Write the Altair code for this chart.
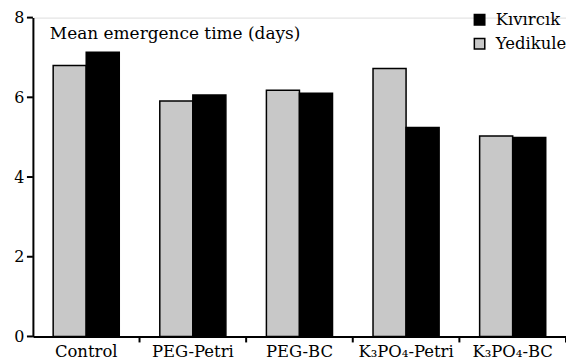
import altair as alt
import pandas as pd

categories = ["Control", "PEG-Petri", "PEG-BC", "K₃PO₄-Petri", "K₃PO₄-BC"]
yedikule = [6.8, 5.91, 6.18, 6.72, 5.03]
kivircik = [7.13, 6.06, 6.10, 5.24, 4.99]
series = ["Kıvırcık", "Yedikule"]
y_ticks = [0, 2, 4, 6, 8]
x_tick_bounds = [1, 2, 3, 4, 5]  # group boundaries (between categories)

rows = []
for c, v in zip(categories, yedikule):
    rows.append({"cat": c, "series": "Yedikule", "val": v})
for c, v in zip(categories, kivircik):
    rows.append({"cat": c, "series": "Kıvırcık", "val": v})
df = pd.DataFrame(rows)

FONT = "DejaVu Serif"

y_scale = alt.Scale(domain=[0, 8], nice=False)

bars = alt.Chart(df).mark_bar(stroke="black", strokeWidth=1.5).encode(
    x=alt.X("cat:N", sort=categories, title=None,
            scale=alt.Scale(paddingInner=0.38, paddingOuter=0.19),
            axis=alt.Axis(labelAngle=0, ticks=False,
                          domainColor="black", domainWidth=2,
                          labelFont=FONT, labelFontSize=16.5, labelColor="black",
                          labelPadding=7, labelBaseline="top")),
    xOffset=alt.XOffset("series:N", sort=["Yedikule", "Kıvırcık"]),
    y=alt.Y("val:Q", title=None, scale=y_scale,
            axis=alt.Axis(values=y_ticks, grid=False, ticks=False, domainColor="black",
                          domainWidth=2,
                          labelFont=FONT, labelFontSize=16, labelColor="black",
                          labelPadding=9)),
    color=alt.Color("series:N", sort=series,
                    scale=alt.Scale(domain=series, range=["black", "#c8c8c8"]),
                    legend=alt.Legend(title=None, orient="none", legendX=440, legendY=-6,
                                      symbolType="square", symbolSize=110,
                                      symbolStrokeColor="black", symbolStrokeWidth=1.5,
                                      labelFont=FONT, labelFontSize=16.5, labelColor="black",
                                      rowPadding=7, labelOffset=8)),
)

ytick_rules = alt.Chart(pd.DataFrame({"v": y_ticks})).mark_rule(
    color="black", strokeWidth=2
).encode(y=alt.Y("v:Q", scale=y_scale), x=alt.value(-6), x2=alt.value(0))

xtick_rules = alt.Chart(pd.DataFrame({"b": x_tick_bounds})).mark_rule(
    color="black", strokeWidth=2
).encode(x=alt.X("b:Q", scale=alt.Scale(domain=[0, 5], nice=False), axis=None),
         y=alt.value(320), y2=alt.value(326))

title_text = alt.Chart(pd.DataFrame({"t": ["Mean emergence time (days)"]})).mark_text(
    align="left", baseline="alphabetic", font=FONT, fontSize=17, color="black"
).encode(text="t:N", x=alt.value(17), y=alt.value(21))

chart = alt.layer(bars, ytick_rules, xtick_rules, title_text).resolve_scale(
    x="independent"
).properties(
    width=535, height=320,
    autosize=alt.AutoSizeParams(type="none"),
    padding={"left": 25, "top": 9, "right": 0, "bottom": 27},
).configure_view(stroke=None).configure(background="white")

chart.save("out.html", embed_options={"renderer": "svg", "actions": False})
